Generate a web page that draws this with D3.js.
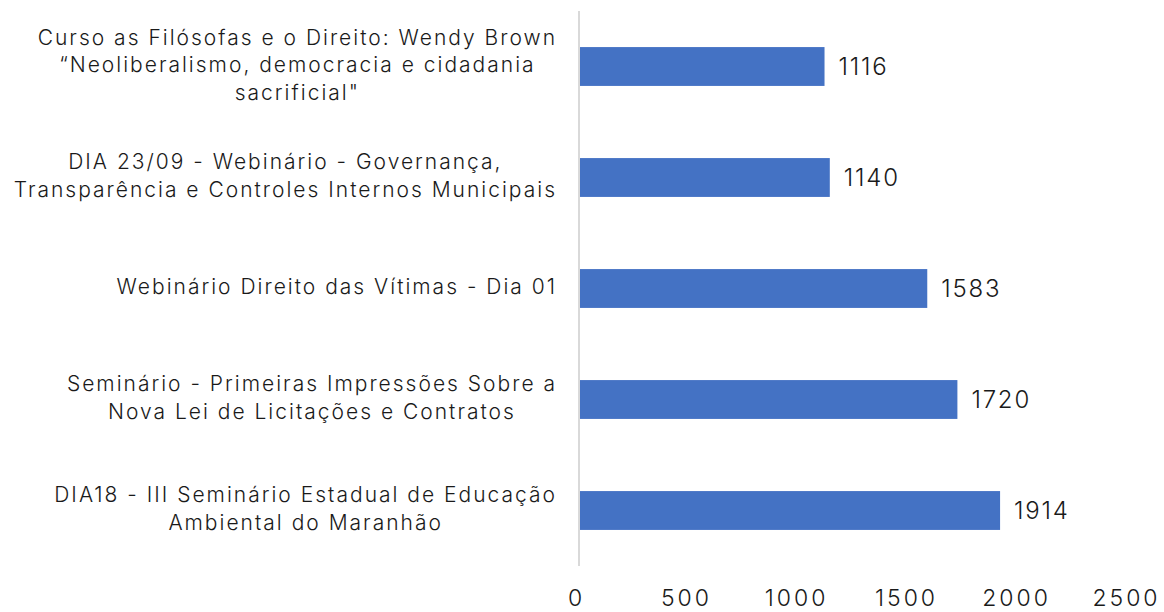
<!DOCTYPE html>
<html>
<head>
<meta charset="utf-8">
<script src="https://cdn.jsdelivr.net/npm/d3@7"></script>
<style>
  html, body { margin: 0; padding: 0; background: #fff; }
  svg { display: block; }
  text { font-family: "Inter", "Open Sans", sans-serif; fill: #1a1a1a; font-weight: 300; }
</style>
</head>
<body>
<svg id="chart" width="1164" height="612"></svg>
<script>
// ---- data ----
const categories = [
  ["Curso as Filósofas e o Direito: Wendy Brown", "“Neoliberalismo, democracia e cidadania", "sacrificial\""],
  ["DIA 23/09 - Webinário - Governança,", "Transparência e Controles Internos Municipais"],
  ["Webinário Direito das Vítimas - Dia 01"],
  ["Seminário - Primeiras Impressões Sobre a", "Nova Lei de Licitações e Contratos"],
  ["DIA18 - III Seminário Estadual de Educação", "Ambiental do Maranhão"]
];
const values = [1116, 1140, 1583, 1720, 1914];
const tickValues = [0, 500, 1000, 1500, 2000, 2500];

// ---- layout ----
const svg = d3.select("#chart");
const x0 = 579, x1 = 1129;
const x = d3.scaleLinear().domain([0, 2500]).range([x0, x1]);
const y = d3.scaleBand().domain(d3.range(categories.length)).range([11, 566])
  .paddingInner(0.65).paddingOuter(0.325);

// axis line (vertical category axis)
svg.append("line")
  .attr("x1", x0).attr("x2", x0).attr("y1", 11).attr("y2", 566)
  .attr("stroke", "#d9d9d9").attr("stroke-width", 2);

// bars
svg.selectAll("rect.bar").data(values).enter().append("rect")
  .attr("class", "bar")
  .attr("x", x(0) + 1)
  .attr("y", (d, i) => y(i))
  .attr("width", d => x(d) - x(0) - 1)
  .attr("height", y.bandwidth())
  .attr("fill", "#4472c4");

// value labels
svg.selectAll("text.val").data(values).enter().append("text")
  .attr("class", "val")
  .attr("x", d => x(d) + 14)
  .attr("y", (d, i) => y(i) + y.bandwidth() / 2 + 2)
  .attr("dominant-baseline", "middle")
  .attr("font-size", 24)
  .attr("letter-spacing", 1.8)
  .text(d => d);

// x axis tick labels
const xAxis = d3.axisBottom(x).tickValues(tickValues).tickFormat(d3.format("d"))
  .tickSize(0).tickPadding(0);
const gx = svg.append("g").attr("transform", "translate(0,606)").call(xAxis);
gx.select(".domain").remove();
gx.selectAll("text")
  .attr("dy", 0)
  .attr("font-size", 23)
  .attr("font-family", "Inter, 'Open Sans', sans-serif")
  .attr("font-weight", 300)
  .attr("letter-spacing", 3)
  .attr("fill", "#1a1a1a")
  .attr("dx", -3);

// category labels (centered block, right edge at 557)
const lineH = 27.5;
const labelRight = 557;
categories.forEach((lines, i) => {
  const cy = y(i) + y.bandwidth() / 2;
  const g = svg.append("g");
  const t = g.append("text").attr("font-size", 21).attr("text-anchor", "middle")
    .attr("letter-spacing", 2);
  const n = lines.length;
  const tsp = lines.map((ln, j) => t.append("tspan")
    .attr("y", cy + (j - (n - 1) / 2) * lineH)
    .attr("dominant-baseline", "middle")
    .text(ln));
  const maxW = d3.max(tsp, s => s.node().getComputedTextLength());
  tsp.forEach(s => s.attr("x", labelRight - maxW / 2));
});
</script>
</body>
</html>
